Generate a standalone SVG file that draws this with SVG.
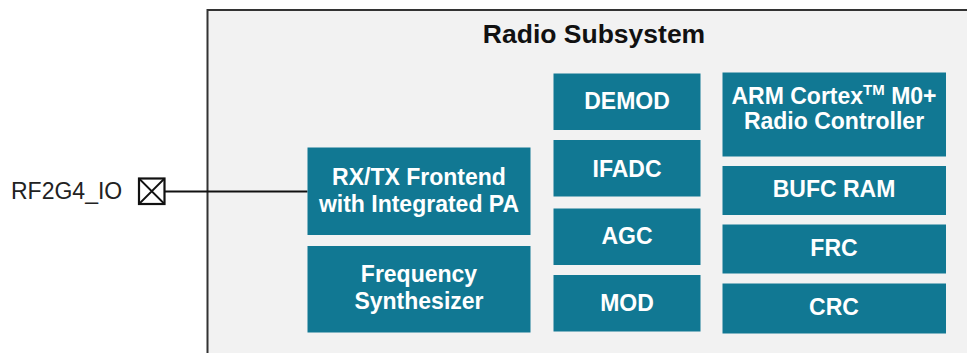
<svg xmlns="http://www.w3.org/2000/svg" width="967" height="353" viewBox="0 0 967 353">
<style>
.blk{fill:#117893}
.t{font-family:"Liberation Sans",Arial,sans-serif;font-weight:bold;font-size:23px;fill:#ffffff;text-anchor:middle}
</style>
<rect width="967" height="353" fill="#ffffff"/>
<g id="radio-subsystem">
<rect x="207.5" y="10" width="780" height="360" fill="#f2f2f2" stroke="#333333" stroke-width="2"/>
<text x="594" y="43" font-family="'Liberation Sans',Arial,sans-serif" font-weight="bold" font-size="26.5" fill="#111111" text-anchor="middle">Radio Subsystem</text>
</g>
<g id="rf2g4-io">
<text x="11" y="198.5" font-family="'Liberation Sans',Arial,sans-serif" font-size="23" fill="#222222">RF2G4_IO</text>
<rect x="139" y="178.5" width="25.5" height="25.5" fill="#ffffff" stroke="#111111" stroke-width="2.2"/>
<path d="M139 178.5L164.5 204M164.5 178.5L139 204" stroke="#111111" stroke-width="1.8" fill="none"/>
</g>
<g id="connectors">
<line x1="164.5" y1="191.5" x2="307.5" y2="191.5" stroke="#111111" stroke-width="1.8"/>
</g>
<g id="rxtx">
<rect class="blk" x="307.5" y="147.5" width="223" height="87.5"/>
<text class="t" x="419" y="185">RX/TX Frontend</text>
<text class="t" x="419" y="211.5">with Integrated PA</text>
</g>
<g id="freq-synth">
<rect class="blk" x="307.5" y="246" width="223" height="86.5"/>
<text class="t" x="419" y="281.5">Frequency</text>
<text class="t" x="419" y="308.5">Synthesizer</text>
</g>
<g id="demod">
<rect class="blk" x="553.5" y="73.5" width="147" height="56.5"/>
<text class="t" x="627" y="108.5">DEMOD</text>
</g>
<g id="ifadc">
<rect class="blk" x="553.5" y="140" width="147" height="56.5"/>
<text class="t" x="627" y="176.5">IFADC</text>
</g>
<g id="agc">
<rect class="blk" x="553.5" y="208.5" width="147" height="56.5"/>
<text class="t" x="627" y="243.5">AGC</text>
</g>
<g id="mod">
<rect class="blk" x="553.5" y="275" width="147" height="56.5"/>
<text class="t" x="627" y="310.5">MOD</text>
</g>
<g id="arm">
<rect class="blk" x="722.5" y="72.5" width="223.5" height="84"/>
<text class="t" x="834" y="103.5">ARM Cortex<tspan font-size="15" dy="-9">TM</tspan><tspan dy="9"> M0+</tspan></text>
<text class="t" x="834" y="129">Radio Controller</text>
</g>
<g id="bufc-ram">
<rect class="blk" x="722.5" y="166" width="223.5" height="49"/>
<text class="t" x="834" y="196.5">BUFC RAM</text>
</g>
<g id="frc">
<rect class="blk" x="722.5" y="224.5" width="223.5" height="49"/>
<text class="t" x="834" y="256">FRC</text>
</g>
<g id="crc">
<rect class="blk" x="722.5" y="283.5" width="223.5" height="50"/>
<text class="t" x="834" y="315">CRC</text>
</g>
</svg>
